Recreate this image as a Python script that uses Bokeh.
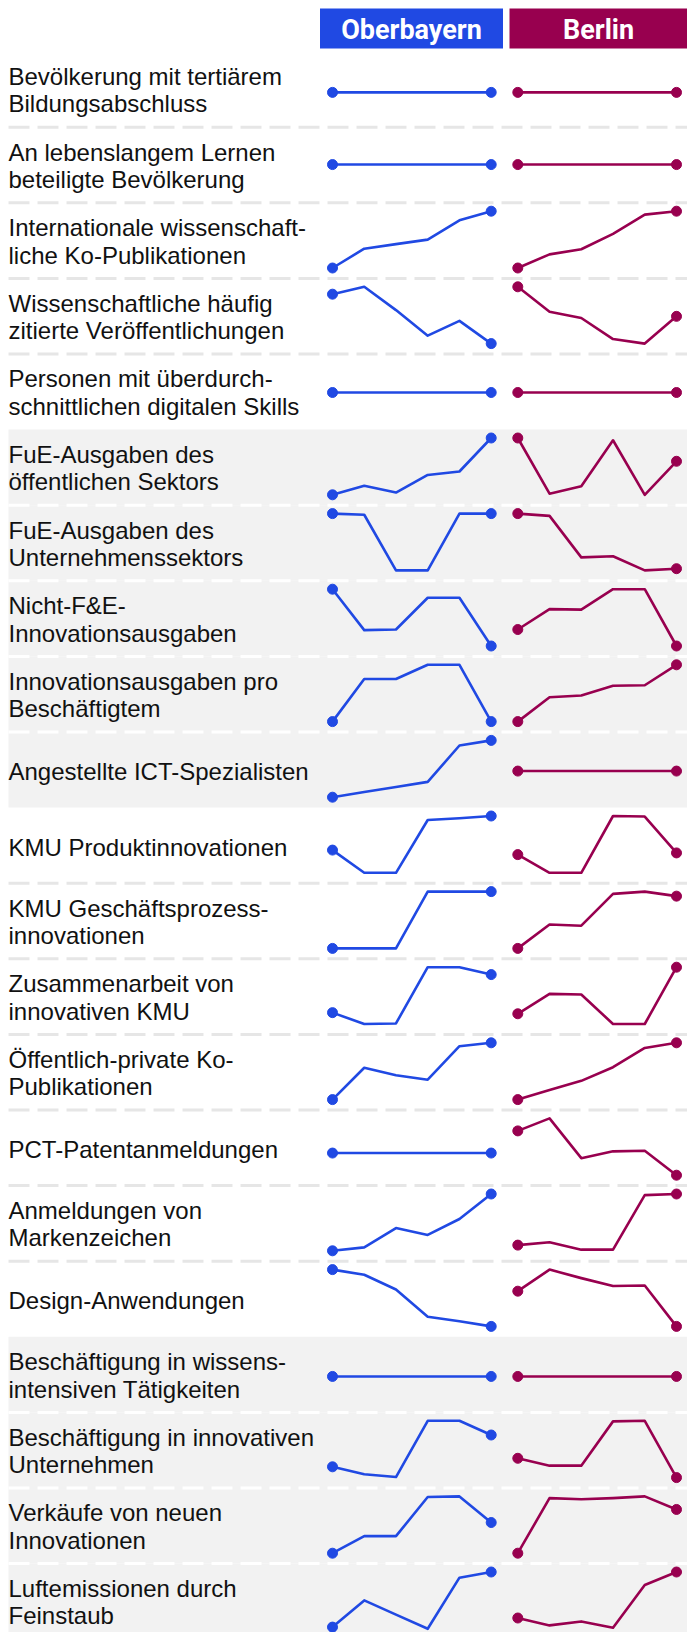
from bokeh.plotting import figure
from bokeh.models import Range1d
from bokeh.core.properties import value
from bokeh.embed import file_html
from bokeh.resources import INLINE

# ---------------- data ----------------
regions = ["Oberbayern", "Berlin"]
years = [2017, 2018, 2019, 2020, 2021, 2022]

labels = [
    ["Bevölkerung mit tertiärem", "Bildungsabschluss"],
    ["An lebenslangem Lernen", "beteiligte Bevölkerung"],
    ["Internationale wissenschaft-", "liche Ko-Publikationen"],
    ["Wissenschaftliche häufig", "zitierte Veröffentlichungen"],
    ["Personen mit überdurch-", "schnittlichen digitalen Skills"],
    ["FuE-Ausgaben des", "öffentlichen Sektors"],
    ["FuE-Ausgaben des", "Unternehmenssektors"],
    ["Nicht-F&E-", "Innovationsausgaben"],
    ["Innovationsausgaben pro", "Beschäftigtem"],
    ["Angestellte ICT-Spezialisten"],
    ["KMU Produktinnovationen"],
    ["KMU Geschäftsprozess-", "innovationen"],
    ["Zusammenarbeit von", "innovativen KMU"],
    ["Öffentlich-private Ko-", "Publikationen"],
    ["PCT-Patentanmeldungen"],
    ["Anmeldungen von", "Markenzeichen"],
    ["Design-Anwendungen"],
    ["Beschäftigung in wissens-", "intensiven Tätigkeiten"],
    ["Beschäftigung in innovativen", "Unternehmen"],
    ["Verkäufe von neuen", "Innovationen"],
    ["Luftemissionen durch", "Feinstaub"],
]

# shaded group per row (0 = white, 1 = grey band)
row_band = [0, 0, 0, 0, 0, 1, 1, 1, 1, 1, 0, 0, 0, 0, 0, 0, 0, 1, 1, 1, 1]

# indexed values (0 = row minimum, 100 = row maximum)
oberbayern = [
    [43, 43, 43, 43, 43, 43],
    [49, 49, 49, 49, 49, 49],
    [0, 34, 42, 50, 84, 100],
    [87, 100, 59, 14, 40, 0],
    [47, 47, 47, 47, 47, 47],
    [0, 16, 4, 35, 41, 100],
    [100, 98, 0, 0, 100, 100],
    [100, 28, 29, 85, 85, 0],
    [0, 75, 75, 100, 100, 0],
    [0, 9, 18, 27, 91, 100],
    [40, 0, 0, 93, 96, 100],
    [0, 0, 0, 100, 100, 100],
    [20, 0, 1, 100, 100, 87],
    [0, 56, 43, 35, 94, 100],
    [39, 39, 39, 39, 39, 39],
    [0, 6, 40, 28, 56, 100],
    [100, 91, 65, 17, 9, 0],
    [45, 45, 45, 45, 45, 45],
    [19, 6, 1, 100, 100, 75],
    [0, 30, 30, 99, 100, 54],
    [3, 50, 25, 0, 90, 100],
]

berlin = [
    [43, 43, 43, 43, 43, 43],
    [49, 49, 49, 49, 49, 49],
    [0, 24, 33, 60, 94, 100],
    [100, 56, 45, 8, 0, 48],
    [47, 47, 47, 47, 47, 47],
    [100, 2, 15, 96, 0, 59],
    [100, 96, 23, 25, 0, 3],
    [29, 65, 64, 100, 100, 0],
    [0, 43, 46, 63, 64, 100],
    [46, 46, 46, 46, 46, 46],
    [32, 0, 0, 100, 99, 35],
    [0, 42, 40, 96, 100, 92],
    [18, 53, 52, 0, 0, 100],
    [0, 17, 33, 57, 91, 100],
    [78, 100, 30, 42, 43, 0],
    [10, 15, 2, 2, 98, 100],
    [62, 100, 85, 71, 72, 0],
    [45, 45, 45, 45, 45, 45],
    [34, 21, 21, 99, 100, 0],
    [0, 97, 95, 97, 100, 77],
    [19, 6, 13, 2, 77, 100],
]

# ---------------- layout / style ----------------
W, H = 687, 1632
M = 8  # page margin drawn inside the figure
BLUE = "#2049e3"
RED = "#98004f"
GREY_BAND = "#f2f2f2"
DASH_ON_WHITE = "#e6e6e6"

HEADER_TOP, HEADER_BOTTOM = 8, 48
headers = [(319.5, 502.5), (509, 687)]
panels = [(332.0, 158.7), (517.3, 158.7)]  # left, width of each sparkline panel
ROW_TOP0, ROW_H = 51.1, 75.6
PAD_TOP, SPAN = 8.4, 56.8

p = figure(width=W, height=H, x_range=Range1d(0, W), y_range=Range1d(H, 0),
           output_backend="svg", toolbar_location=None, min_border=0,
           x_axis_type=None, y_axis_type=None)
p.grid.visible = False
p.outline_line_color = None
p.background_fill_color = "white"
p.border_fill_color = "white"

n = len(labels)
tops = [ROW_TOP0 + i * ROW_H for i in range(n)]

# grey bands
gl, gr, gt, gb = [], [], [], []
for i in range(n):
    if row_band[i]:
        gl.append(M); gr.append(W); gt.append(tops[i]); gb.append(tops[i] + ROW_H)
p.quad(left=gl, right=gr, top=gt, bottom=gb, fill_color=GREY_BAND, line_color=None)

# dashed separators inside each group
for i in range(n - 1):
    if row_band[i] == row_band[i + 1]:
        y = tops[i] + ROW_H
        p.segment(x0=[M], x1=[W], y0=[y], y1=[y],
                  line_color="white" if row_band[i] else DASH_ON_WHITE,
                  line_width=3, line_dash="21 8")

# header boxes
colors = [BLUE, RED]
for (l, r), c, name in zip(headers, colors, regions):
    p.quad(left=[l], right=[r], top=[HEADER_TOP], bottom=[HEADER_BOTTOM],
           fill_color=c, line_color=None)
    p.text(x=[(l + r) / 2], y=[(HEADER_TOP + HEADER_BOTTOM) / 2 + 1], text=[name],
           text_font=value("Roboto"), text_font_style="bold",
           text_font_size="27px", text_color="white",
           text_align="center", text_baseline="middle")

# labels
lx, ly, lt = [], [], []
for i, lines in enumerate(labels):
    c = tops[i] + ROW_H / 2
    if len(lines) == 1:
        bases = [c + 1.7]
    else:
        bases = [c - 13.0, c + 14.5]
    for b, t in zip(bases, lines):
        lx.append(M); ly.append(b); lt.append(t)
p.text(x=lx, y=ly, text=lt, text_font=value("Liberation Sans"),
       text_font_size="24px", text_color="#111111",
       text_align="left", text_baseline="alphabetic")

# sparklines
y0, y1 = years[0], years[-1]
for series, (left, width), c in zip([oberbayern, berlin], panels, colors):
    for i, vals in enumerate(series):
        xs = [left + (yr - y0) / (y1 - y0) * width for yr in years]
        ys = [tops[i] + PAD_TOP + (1 - v / 100.0) * SPAN for v in vals]
        p.line(xs, ys, line_color=c, line_width=2.6, line_join="round")
        p.scatter([xs[0], xs[-1]], [ys[0], ys[-1]], size=10,
                  fill_color=c, line_color=c)

open("out.html", "w").write(file_html(p, INLINE))
